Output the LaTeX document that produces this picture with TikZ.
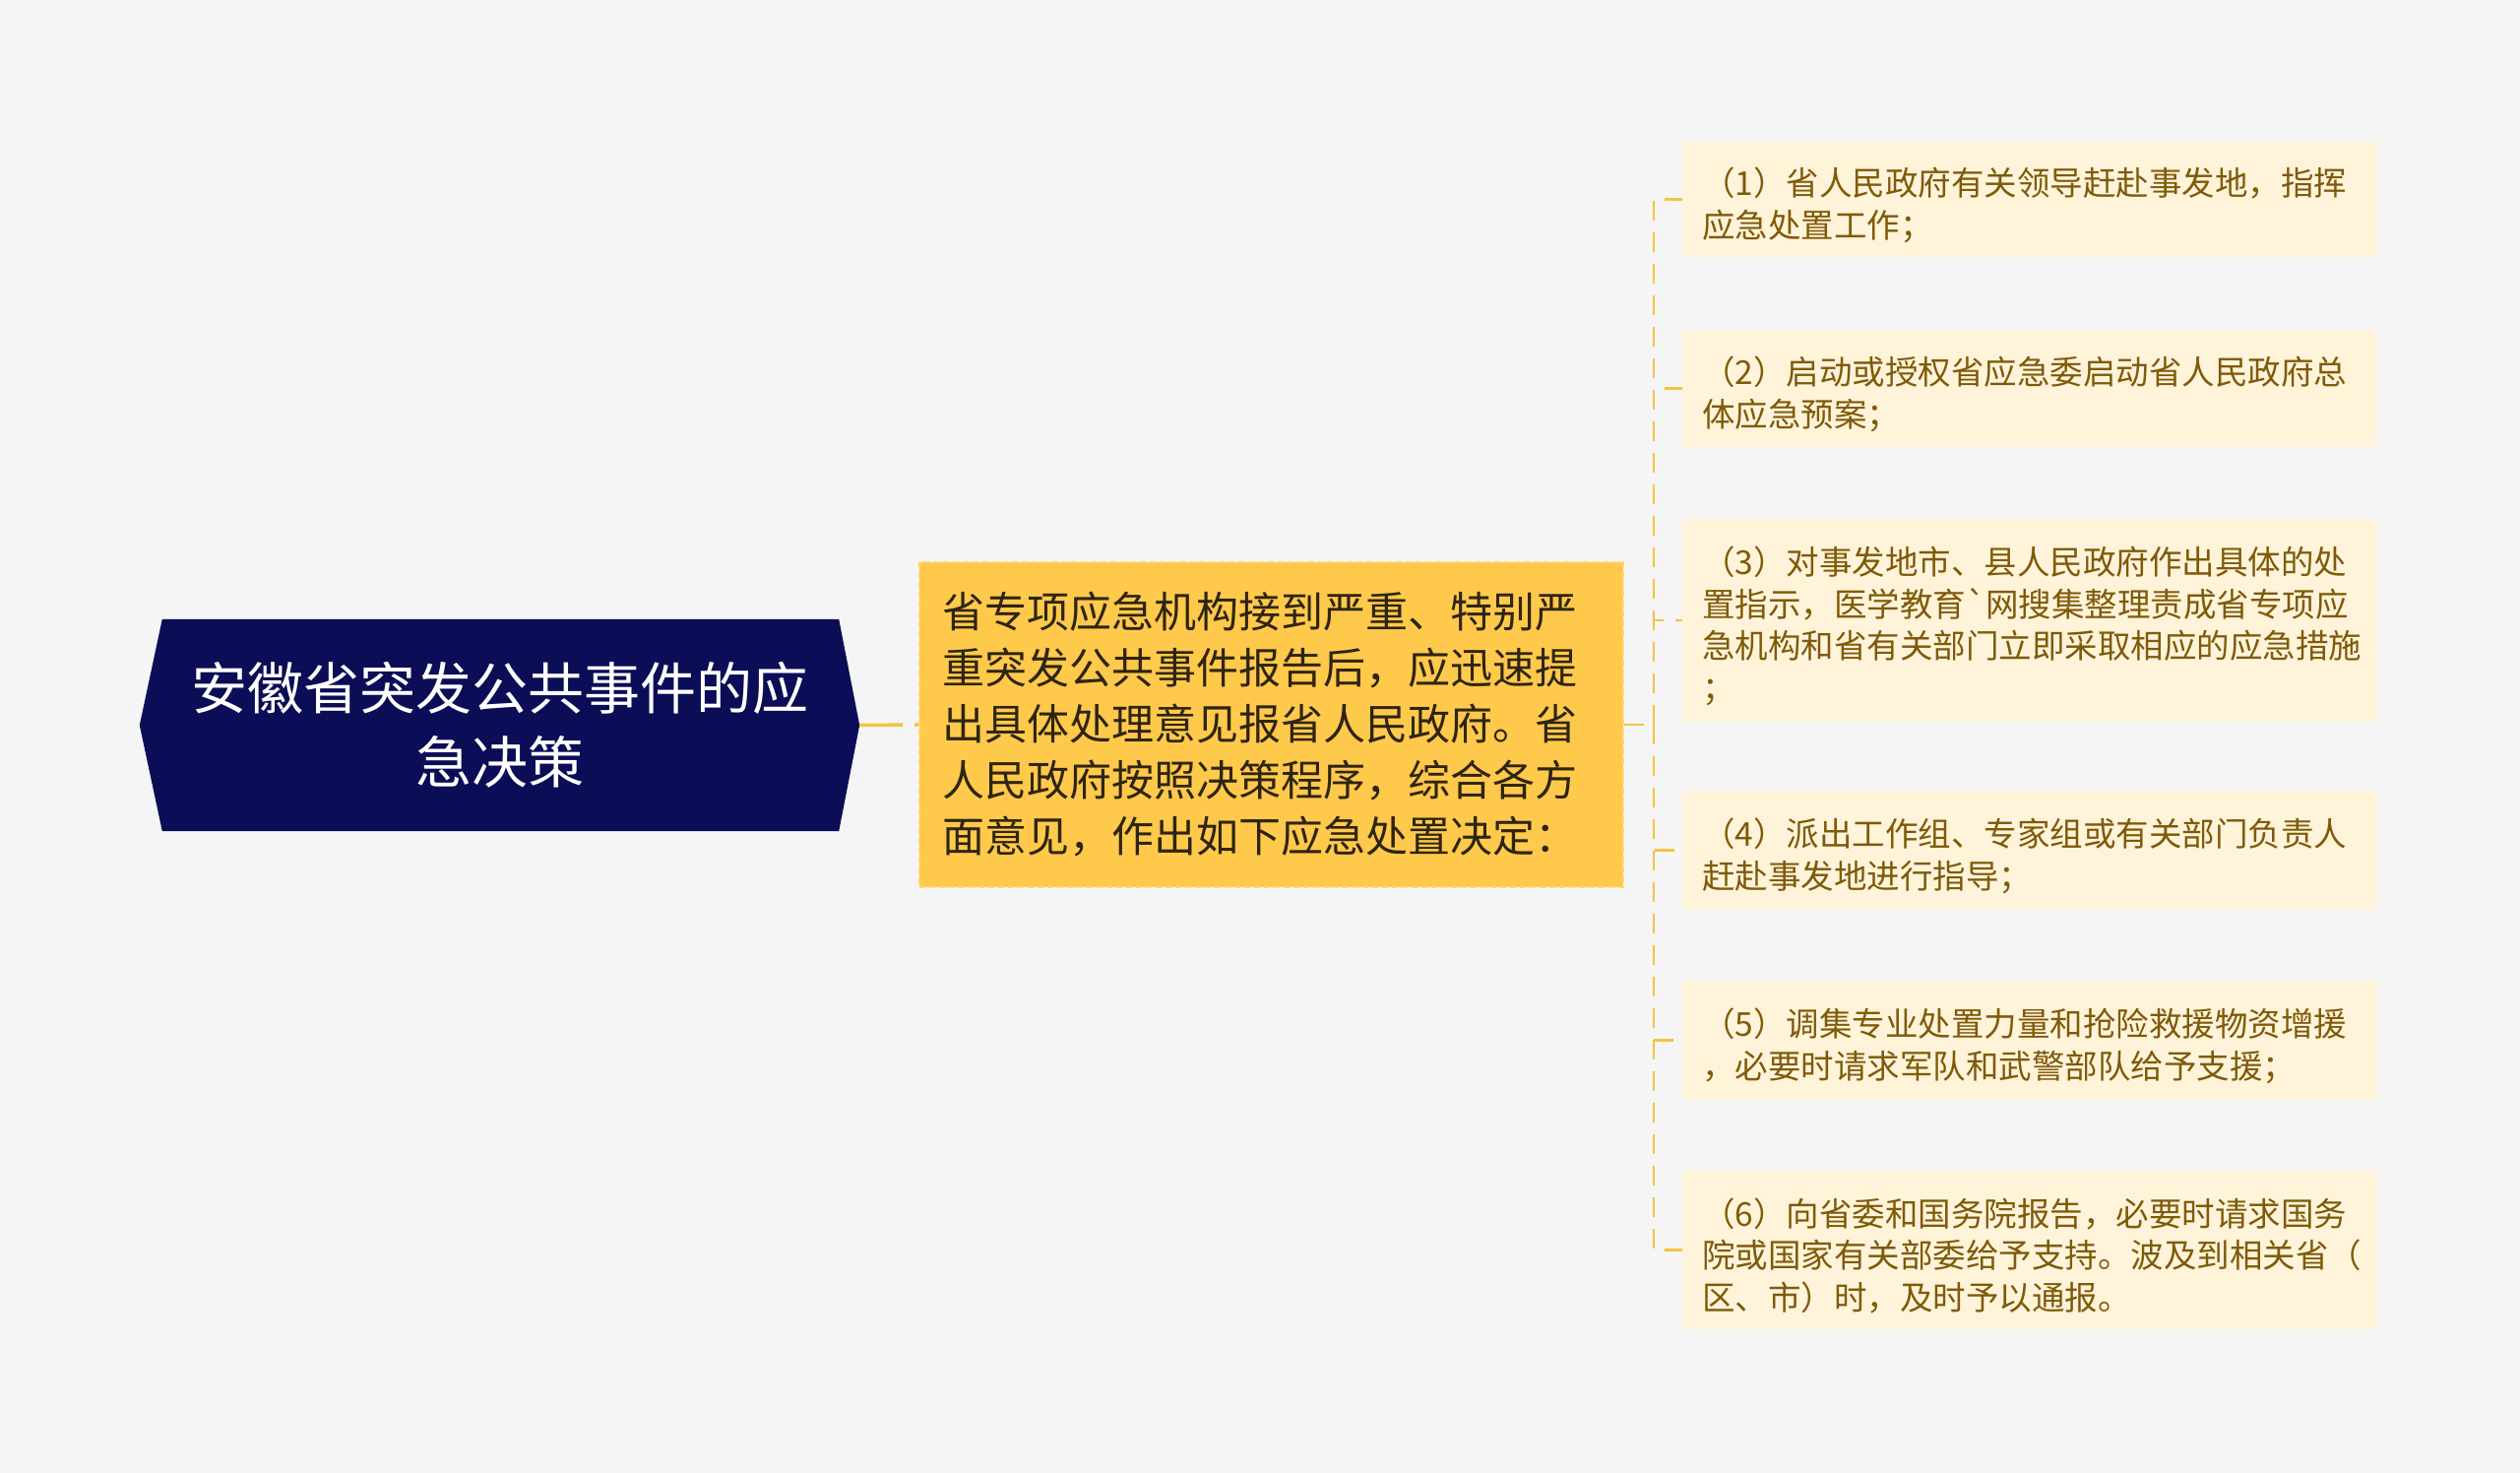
\documentclass[tikz,border=0pt]{standalone}
\usepackage{fontspec}
\setmainfont{Noto Sans CJK SC}[Ligatures=TeXOff]
\definecolor{bgc}{HTML}{F5F5F5}
\definecolor{navy}{HTML}{0B0D56}
\definecolor{midc}{HTML}{FFC94B}
\definecolor{midb}{HTML}{FFD870}
\definecolor{leafc}{HTML}{FFF3DA}
\definecolor{leaft}{HTML}{7F5A08}
\definecolor{midt}{HTML}{2E2410}
\definecolor{linkc}{HTML}{F5C242}
\tikzset{
  rootbox/.style={rectangle,minimum width=731pt,minimum height=215pt,inner sep=0pt,
    text=white,align=center,font=\fontsize{57}{75}\selectfont},
  midbox/.style={rectangle,fill=midc,draw=midb,line width=2pt,dash pattern=on 6pt off 4pt,
    minimum width=715pt,minimum height=330pt,inner xsep=23pt,inner ysep=0pt,
    text width=669pt,align=left,text=midt,font=\fontsize{43}{57}\selectfont},
  leafbox/.style={rectangle,fill=leafc,minimum width=706pt,inner xsep=20pt,inner ysep=0pt,
    text width=666pt,align=left,text=leaft,font=\fontsize{33.5}{42.5}\selectfont},
  rootlink/.style={draw=linkc,line width=3.5pt,dash pattern=on 44pt off 12pt},
  childlink/.style={draw=linkc,line width=2.6pt,dash pattern=on 20pt off 12pt}
}
\newcommand{\lf}{\rule{0pt}{40pt}}
\begin{document}
\begin{tikzpicture}[x=1pt,y=-1pt]
\fill[bgc] (0,0) rectangle (2560,1496);
\useasboundingbox (0,0) rectangle (2560,1496);

\node[rootbox] (root) at (507.5,736.5) {\phantom{安}};
\fill[navy] (root.west) -- ([xshift=23pt]root.north west) -- ([xshift=-21pt]root.north east)
  -- (root.east) -- ([xshift=-21pt]root.south east) -- ([xshift=23pt]root.south west) -- cycle;
\node[rootbox] (roottext) at (root.center) {安徽省突发公共事件的应\\急决策};

\node[midbox] (mid) at (1291.5,736) {省专项应急机构接到严重、特别严\\重突发公共事件报告后，应迅速提\\出具体处理意见报省人民政府。省\\人民政府按照决策程序，综合各方\\面意见，作出如下应急处置决定：};

\node[leafbox,minimum height=117pt] (c1) at (2062,202.5) {\lf（1）省人民政府有关领导赶赴事发地，指挥\\应急处置工作；};
\node[leafbox,minimum height=119pt] (c2) at (2062,394.5) {\lf（2）启动或授权省应急委启动省人民政府总\\体应急预案；};
\node[leafbox,minimum height=206pt] (c3) at (2062,630) {\lf（3）对事发地市、县人民政府作出具体的处\\置指示，医学教育`网搜集整理责成省专项应\\急机构和省有关部门立即采取相应的应急措施\\；};
\node[leafbox,minimum height=121pt] (c4) at (2062,863.5) {\lf（4）派出工作组、专家组或有关部门负责人\\赶赴事发地进行指导；};
\node[leafbox,minimum height=121pt] (c5) at (2062,1056.5) {\lf（5）调集专业处置力量和抢险救援物资增援\\，必要时请求军队和武警部队给予支援；};
\node[leafbox,minimum height=161pt] (c6) at (2062,1269.5) {\lf（6）向省委和国务院报告，必要时请求国务\\院或国家有关部委给予支持。波及到相关省（\\区、市）时，及时予以通报。};

\draw[rootlink] (root.east) -- (mid.west);
\coordinate (jn) at (1680,736);
\draw[childlink] (mid.east) -- (jn);
\foreach \c in {c1,c2,c3,c4,c5,c6}{
  \draw[childlink] (jn) |- (\c.west);
}
\end{tikzpicture}
\end{document}
